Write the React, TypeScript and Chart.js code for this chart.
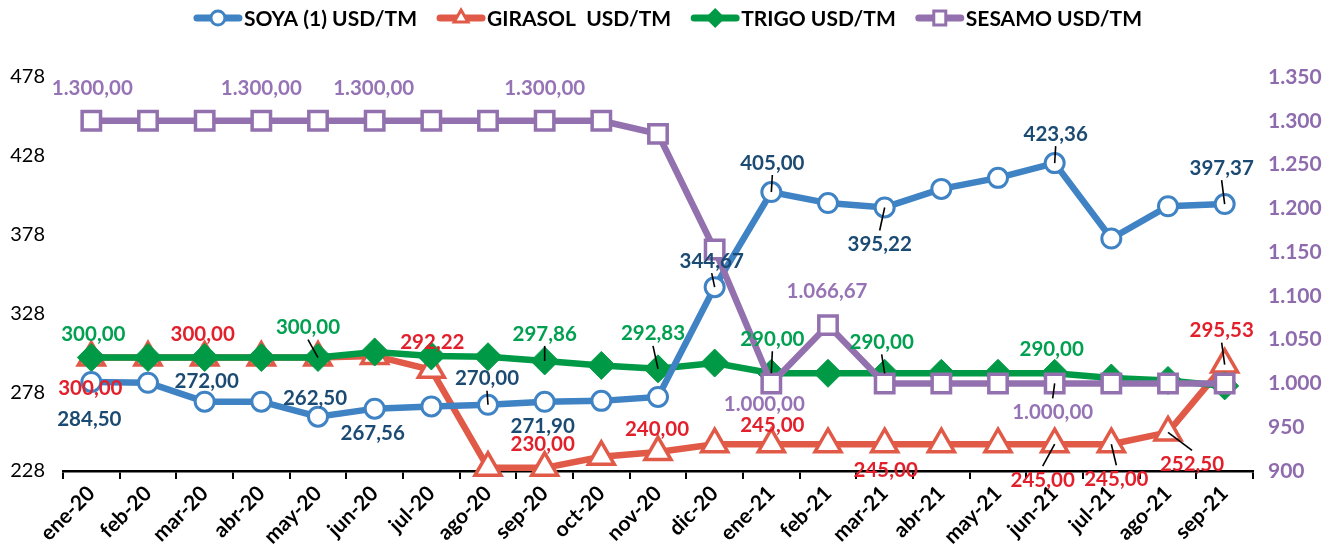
import React, { useEffect, useRef } from 'react';
import { Chart, registerables } from 'chart.js';

Chart.register(...registerables);

const FONT = 'Lato, "Open Sans", sans-serif';

const categories = [
  'ene-20', 'feb-20', 'mar-20', 'abr-20', 'may-20', 'jun-20', 'jul-20', 'ago-20', 'sep-20', 'oct-20', 'nov-20',
  'dic-20', 'ene-21', 'feb-21', 'mar-21', 'abr-21', 'may-21', 'jun-21', 'jul-21', 'ago-21', 'sep-21',
];

const soya = [284.5, 284.0, 272.0, 272.0, 262.5, 267.56, 269.0, 270.0, 271.9, 272.5, 275.0, 344.67, 405.0, 398.0, 395.22, 407.0, 414.0, 423.36, 375.5, 396.0, 397.37];
const girasol = [300, 300, 300, 300, 300, 301, 292.22, 230, 230, 237, 240, 245, 245, 245, 245, 245, 245, 245, 245, 252.5, 295.53];
const trigo = [300, 300, 300, 300, 300, 303.5, 301, 300.5, 297.86, 295, 292.83, 296.5, 290, 290, 290, 290, 290, 290, 287, 285.5, 282];
const sesamo = [1300, 1300, 1300, 1300, 1300, 1300, 1300, 1300, 1300, 1300, 1285, 1153, 1000, 1066.67, 1000, 1000, 1000, 1000, 1000, 1000, 1000];

const seriesNames = ['SOYA (1) USD/TM', 'GIRASOL  USD/TM', 'TRIGO USD/TM', 'SESAMO USD/TM'];

const leftTicks = { min: 228, max: 478, step: 50 };
const rightTicks = { min: 900, max: 1350, step: 50 };

// label layout: [pointIndex, dx, dy, leader]
const soyaLabels: [number, number, number, boolean][] = [
  [0, -2, 36, false], [2, 2, -21, false], [4, -3, -19, false], [5, -2, 24, false], [7, -1, -27, true],
  [8, -2, 24, false], [11, -3, -27, true], [12, 1, -30, true], [14, -5, 36, true], [17, 1, -30, true], [20, -3, -37, true],
];
const girasolLabels: [number, number, number, boolean][] = [
  [0, -1, 30, false], [2, -2, -24, false], [6, 1, -28, false], [8, -2, -24, false], [10, -1, -24, false],
  [12, 1, -20, false], [14, 1, 25, false], [17, -12, 35, true], [18, 5, 34, true], [19, 24, 31, true], [20, -3, -35, true],
];
const trigoLabels: [number, number, number, boolean][] = [
  [0, 2, -24, false], [4, -10, -31, true], [8, 0, -28, true], [10, -5, -36, true], [12, 1, -35, true],
  [14, -3, -32, true], [17, -3, -25, false],
];
const sesamoLabels: [number, number, number, boolean][] = [
  [0, 1, -33, false], [3, 0, -33, false], [5, -1, -33, false], [8, 0, -33, false], [12, -7, 20, false],
  [13, -1, -35, false], [17, -2, 28, true],
];

const lineColors = ['#3F83C4', '#E05A47', '#009A46', '#9271AE'];
const labelColors = ['#1B4A72', '#E2202C', '#00A050', '#9673B4'];
const markerStyles = ['circle', 'triangle', 'rectRot', 'rect'];
const allLabels = [soyaLabels, girasolLabels, trigoLabels, sesamoLabels];

function fmtEs(v: number, d: number): string {
  const [i, f] = v.toFixed(d).split('.');
  const ii = i.replace(/\B(?=(\d{3})+(?!\d))/g, '.');
  return f ? ii + ',' + f : ii;
}

function drawMarker(ctx: CanvasRenderingContext2D, style: string, x: number, y: number, color: string) {
  ctx.save();
  ctx.strokeStyle = color;
  ctx.lineWidth = 3;
  ctx.fillStyle = '#fff';
  ctx.beginPath();
  if (style === 'circle') {
    ctx.arc(x, y, 7, 0, Math.PI * 2);
    ctx.fill();
    ctx.stroke();
  } else if (style === 'triangle') {
    const r = 8;
    ctx.moveTo(x, y - r);
    ctx.lineTo(x + r * 0.866, y + r * 0.5);
    ctx.lineTo(x - r * 0.866, y + r * 0.5);
    ctx.closePath();
    ctx.fill();
    ctx.stroke();
  } else if (style === 'rectRot') {
    const r = 10;
    ctx.moveTo(x, y - r);
    ctx.lineTo(x + r, y);
    ctx.lineTo(x, y + r);
    ctx.lineTo(x - r, y);
    ctx.closePath();
    ctx.fillStyle = color;
    ctx.fill();
  } else {
    ctx.rect(x - 6, y - 7, 12, 14);
    ctx.fill();
    ctx.stroke();
  }
  ctx.restore();
}

const legendPlugin = {
  id: 'customLegend',
  afterDraw(chart: any) {
    const ctx: CanvasRenderingContext2D = chart.ctx;
    ctx.save();
    ctx.font = `bold 21px ${FONT}`;
    const lineW = 50;
    const gapText = 1;
    const gapItem = 19;
    const items = chart.data.datasets.map((ds: any, i: number) => ({
      text: ds.label as string,
      w: ctx.measureText(ds.label).width,
      color: lineColors[i],
      style: markerStyles[i],
    }));
    const total = items.reduce((s: number, it: any) => s + lineW + gapText + it.w, 0) + gapItem * (items.length - 1);
    let x = (chart.width - total) / 2;
    const y = 18;
    for (const it of items) {
      ctx.strokeStyle = it.color;
      ctx.lineWidth = 7;
      ctx.lineCap = 'round';
      ctx.beginPath();
      ctx.moveTo(x + 4, y);
      ctx.lineTo(x + lineW - 4, y);
      ctx.stroke();
      drawMarker(ctx, it.style, x + lineW / 2, y, it.color);
      ctx.fillStyle = '#000';
      ctx.textAlign = 'left';
      ctx.textBaseline = 'middle';
      ctx.fillText(it.text, x + lineW + gapText, y + 1);
      x += lineW + gapText + it.w + gapItem;
    }
    ctx.restore();
  },
};

const labelPlugin = {
  id: 'dataLabels',
  afterDatasetsDraw(chart: any) {
    const ctx: CanvasRenderingContext2D = chart.ctx;
    ctx.save();
    ctx.font = `bold 20.5px ${FONT}`;
    ctx.textAlign = 'center';
    ctx.textBaseline = 'middle';
    allLabels.forEach((labels, di) => {
      const meta = chart.getDatasetMeta(di);
      const data = chart.data.datasets[di].data as number[];
      labels.forEach(([idx, dx, dy, leader]) => {
        const pt = meta.data[idx];
        if (!pt) return;
        const lx = pt.x + dx;
        const ly = pt.y + dy;
        if (leader) {
          const sign = dy > 0 ? -1 : 1;
          ctx.strokeStyle = '#000';
          ctx.lineWidth = 1.6;
          ctx.beginPath();
          ctx.moveTo(lx, ly + sign * 13);
          ctx.lineTo(pt.x, pt.y);
          ctx.stroke();
        }
        ctx.fillStyle = labelColors[di];
        ctx.fillText(fmtEs(data[idx], 2), lx, ly + 1);
      });
    });
    ctx.restore();
  },
};

export default function App() {
  const canvasRef = useRef<HTMLCanvasElement | null>(null);

  useEffect(() => {
    let chart: Chart | null = null;
    let cancelled = false;
    const build = () => {
      if (cancelled || !canvasRef.current) return;
      const seriesData = [soya, girasol, trigo, sesamo];
      const orders = [2, 4, 3, 1];
      const datasets = seriesData.map((d, i) => ({
        label: seriesNames[i],
        data: d,
        yAxisID: i === 3 ? 'y2' : 'y',
        borderColor: lineColors[i],
        backgroundColor: lineColors[i],
        borderWidth: 6.5,
        tension: 0,
        pointStyle: markerStyles[i] as any,
        pointRadius: [9.5, 15, 14, 13][i],
        pointBorderWidth: [3, 3.5, 1, 3.5][i],
        pointBackgroundColor: i === 2 ? lineColors[i] : '#fff',
        pointBorderColor: lineColors[i],
        order: orders[i],
        clip: false as any,
      }));
      chart = new Chart(canvasRef.current, {
        type: 'line',
        data: { labels: categories, datasets },
        options: {
          animation: false,
          responsive: false,
          devicePixelRatio: 1,
          layout: { padding: { top: 77, left: 0, right: 0, bottom: 0 } },
          plugins: {
            legend: { display: false },
            tooltip: { enabled: false },
          },
          scales: {
            x: {
              type: 'category',
              offset: true,
              grid: {
                offset: true,
                display: true,
                drawOnChartArea: false,
                drawTicks: true,
                tickLength: 8,
                color: '#000',
                lineWidth: 2,
              },
              border: { display: true, color: '#000', width: 2.5 },
              ticks: {
                autoSkip: false,
                maxRotation: 45,
                minRotation: 45,
                padding: 2,
                color: '#000',
                font: { family: FONT, size: 21, weight: 'bold' },
              },
              afterFit: (s: any) => { s.height = 89; },
            },
            y: {
              position: 'left',
              min: leftTicks.min,
              max: leftTicks.max,
              grid: { display: false, drawTicks: false },
              border: { display: false },
              ticks: {
                stepSize: leftTicks.step,
                padding: 18,
                color: '#000',
                font: { family: FONT, size: 20 },
              },
              afterFit: (s: any) => { s.width = 63; },
            },
            y2: {
              position: 'right',
              min: rightTicks.min,
              max: rightTicks.max,
              grid: { display: false, drawTicks: false },
              border: { display: false },
              ticks: {
                stepSize: rightTicks.step,
                padding: 15,
                color: '#8E6BAD',
                font: { family: FONT, size: 21, weight: 'bold' },
                callback: (v: any) => fmtEs(Number(v), 0),
              },
              afterFit: (s: any) => { s.width = 82; },
            },
          },
        },
        plugins: [labelPlugin, legendPlugin],
      });
    };
    const fontsReady = (document as any).fonts
      ? Promise.all([
          (document as any).fonts.load(`bold 20px Lato`),
          (document as any).fonts.load(`19px Lato`),
        ]).catch(() => null)
      : Promise.resolve(null);
    fontsReady.then(build);
    return () => {
      cancelled = true;
      if (chart) chart.destroy();
    };
  }, []);

  return (
    <div style={{ position: 'absolute', left: 0, top: 0, width: 1335, height: 560, background: '#fff' }}>
      <canvas ref={canvasRef} width={1335} height={560} style={{ width: 1335, height: 560 }} />
    </div>
  );
}
